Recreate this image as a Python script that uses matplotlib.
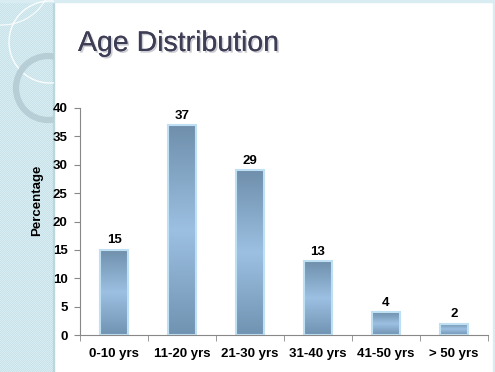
import numpy as np
import matplotlib
matplotlib.use("Agg")
import matplotlib.pyplot as plt
from matplotlib.patches import Rectangle, Circle
import matplotlib.patheffects as pe
from matplotlib.colors import LinearSegmentedColormap

# data
age_groups = ['0-10 yrs', '11-20 yrs', '21-30 yrs', '31-40 yrs', '41-50 yrs', '> 50 yrs']
percentage = [15, 37, 29, 13, 4, 2]
y_ticks = [0, 5, 10, 15, 20, 25, 30, 35, 40]

plt.rcParams['font.family'] = ['Liberation Sans', 'DejaVu Sans']
FS = 9.5

W, H = 495, 372
fig = plt.figure(figsize=(W / 100, H / 100), dpi=100)
fig.patch.set_facecolor('white')

# slide decoration in pixel coordinates
bg = fig.add_axes([0, 0, 1, 1], zorder=0)
bg.set_xlim(0, W)
bg.set_ylim(H, 0)
bg.axis('off')

# dotted pale strip on the left
yy, xx = np.mgrid[0:H, 0:54]
dots = ((xx + yy) % 2 == 0).astype(float)
base = np.array([0.79, 0.89, 0.915])
light = np.array([0.85, 0.93, 0.95])
strip = base + (light - base) * dots[..., None]
bg.imshow(strip, extent=(0, 54, H, 0), interpolation='nearest', zorder=0)
bg.add_patch(Rectangle((53, 0), 1, H, color='#bcd6de', zorder=1))

clip = Rectangle((0, 0), 54, H, transform=bg.transData)
c1 = Circle((50, 42), 41, fill=False, ec='white', lw=1.0, alpha=0.9, zorder=2)
c2 = Circle((48, 88), 32, fill=False, ec='#b8ced6', lw=4.5, zorder=2)
c3 = Circle((2, -25), 50, fill=False, ec='white', lw=0.9, alpha=0.8, zorder=2)
for c in (c1, c2, c3):
    bg.add_patch(c)
    c.set_clip_path(clip)

# thin border top and right
bg.add_patch(Rectangle((0, 0), W, 1.5, color='#d8ecf2', zorder=1))
bg.add_patch(Rectangle((W - 2, 0), 2, H, color='#d8ecf2', zorder=1))

# title
fig.text(78 / W, 1 - 51 / H, 'Age Distribution', fontsize=20.5, color='#3d3d55',
         va='baseline', ha='left',
         path_effects=[pe.withSimplePatchShadow(offset=(1.2, -1.2), shadow_rgbFace='#9a9aa8', alpha=0.5),
                       pe.Normal()])

# chart
ax = fig.add_axes([80 / W, 1 - 335 / H, 408 / W, 227 / H], zorder=1)
ax.patch.set_alpha(0)
x = np.arange(len(age_groups))
bars = ax.bar(x, percentage, width=0.41, facecolor='none', edgecolor='#bfe0f2', linewidth=1.5, zorder=3)

cmap = LinearSegmentedColormap.from_list('bar', ['#6f8fac', '#9cc0e2', '#7193b2'])
grad = np.linspace(0, 1, 256)[:, None]
for b in bars:
    x0, w, h = b.get_x(), b.get_width(), b.get_height()
    im = ax.imshow(grad, cmap=cmap, aspect='auto', extent=(x0, x0 + w, 0, h),
                   origin='upper', zorder=2, interpolation='bilinear')
    im.set_clip_path(b)

for xi, v in zip(x, percentage):
    ax.annotate(str(v), (xi, v), xytext=(0, 2.5), textcoords='offset points',
                ha='center', va='bottom', fontsize=FS, fontweight='bold')

ax.set_xlim(-0.5, len(age_groups) - 0.5)
ax.set_ylim(0, 40)
ax.set_yticks(y_ticks)
ax.set_xticks(x)
ax.set_xticklabels(age_groups, fontsize=FS, fontweight='bold')
ax.set_xticks(np.arange(-0.5, len(age_groups)), minor=True)
ax.tick_params(axis='x', which='major', length=0, pad=9)
ax.tick_params(axis='x', which='minor', length=4, direction='out', color='#888888')
ax.tick_params(axis='y', length=4, direction='out', color='#888888', pad=5, labelsize=FS)
for lab in ax.get_yticklabels():
    lab.set_fontweight('bold')
for s in ('top', 'right'):
    ax.spines[s].set_visible(False)
for s in ('left', 'bottom'):
    ax.spines[s].set_color('#888888')
    ax.spines[s].set_linewidth(0.8)
ax.spines['bottom'].set_zorder(4)

ax.set_ylabel('Percentage', fontsize=FS, fontweight='bold')
ax.yaxis.set_label_coords(-0.09, 0.595)

fig.savefig('out.png', dpi=100)
